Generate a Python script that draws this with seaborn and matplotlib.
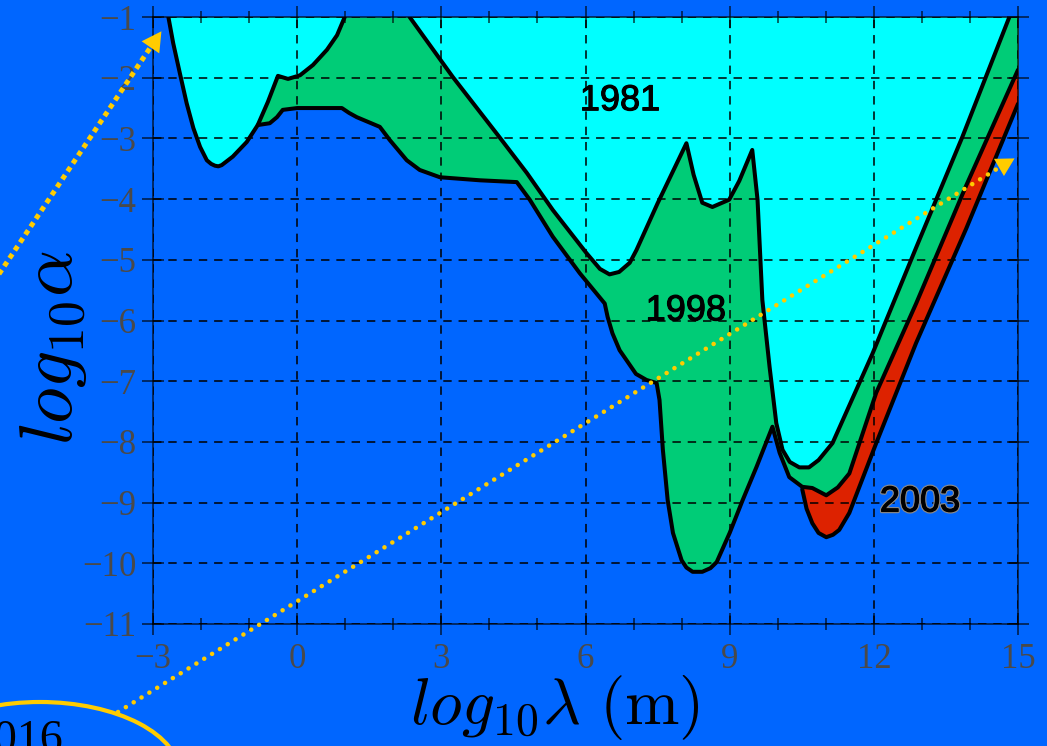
import matplotlib
matplotlib.use("Agg")
import matplotlib.pyplot as plt
import matplotlib.patheffects as pe
from matplotlib.patches import Ellipse, FancyArrowPatch
from matplotlib.lines import Line2D
import numpy as np
import pandas as pd
import seaborn as sns

# ---- exclusion limits: log10(alpha) versus log10(lambda / m) ----
# 1981 bound, short-range branch
x1981_left = [-2.68, -2.58, -2.44, -2.30, -2.16, -2.02, -1.88, -1.79, -1.71, -1.64, -1.57,
              -1.34, -1.05, -0.82, -0.61, -0.40, -0.19, 0.06, 0.33, 0.62, 0.83, 0.99]
y1981_left = [-1.0, -1.43, -1.93, -2.42, -2.83, -3.14, -3.36, -3.42, -3.45, -3.46, -3.44,
              -3.30, -3.06, -2.78, -2.40, -1.97, -2.02, -1.96, -1.79, -1.54, -1.30, -1.0]
# 1981 bound, long-range branch
x1981_right = [2.34, 3.24, 4.21, 4.78, 5.32, 6.02, 6.30, 6.50, 6.70, 6.92, 7.06, 7.50,
               8.10, 8.25, 8.43, 8.64, 8.99, 9.20, 9.47, 9.58, 9.68, 9.83, 9.97, 10.10,
               10.25, 10.45, 10.65, 10.85, 11.14, 11.97, 12.88, 13.84, 14.82]
y1981_right = [-1.0, -1.99, -2.98, -3.57, -4.18, -4.89, -5.15, -5.24, -5.20, -5.05, -4.84,
               -4.07, -3.08, -3.60, -4.06, -4.13, -4.01, -3.70, -3.19, -4.01, -5.66, -6.76,
               -7.69, -8.13, -8.33, -8.42, -8.42, -8.30, -8.02, -6.55, -4.80, -2.98, -1.0]
# 1998 bound
x1998 = [-0.82, -0.57, -0.42, -0.30, 0.00, 0.50, 0.93, 1.08, 1.24, 1.72, 1.93, 2.28, 2.55,
         2.97, 3.80, 4.57, 4.84, 5.32, 5.88, 6.40, 6.46, 6.56, 6.71, 6.85, 7.05, 7.27,
         7.48, 7.54, 7.61, 7.71, 7.82, 8.00, 8.10, 8.23, 8.43, 8.60, 8.73, 9.00, 9.27,
         9.56, 9.89, 10.04, 10.24, 10.51, 10.72, 11.01, 11.25, 11.49, 12.05, 12.88,
         13.92, 15.0]
y1998 = [-2.78, -2.75, -2.65, -2.53, -2.50, -2.50, -2.50, -2.58, -2.65, -2.81, -3.03, -3.36,
         -3.52, -3.64, -3.69, -3.72, -4.01, -4.62, -5.22, -5.72, -5.94, -6.21, -6.49, -6.65,
         -6.88, -6.98, -7.03, -7.31, -8.13, -8.96, -9.50, -9.95, -10.07, -10.14, -10.14,
         -10.08, -9.98, -9.50, -8.96, -8.41, -7.75, -8.18, -8.58, -8.74, -8.76, -8.88,
         -8.75, -8.52, -7.19, -5.72, -3.78, -1.87]
# 2003 bound
x2003 = [10.51, 10.60, 10.72, 10.85, 11.01, 11.15, 11.28, 11.49, 12.05, 12.88, 13.92, 15.0]
y2003 = [-8.78, -9.10, -9.34, -9.50, -9.57, -9.53, -9.45, -9.17, -8.02, -6.37, -4.49, -2.43]

year_labels = ["1981", "1998", "2003"]
year_label_x = [6.72, 8.09, 12.96]
year_label_y = [-2.38, -5.84, -8.99]

x_major = list(range(-3, 16, 3))
x_minor = list(range(-3, 16))
y_major = list(range(-11, 0))

BLUE = "#0066ff"
CYAN = "#00ffff"
GREEN = "#00cc77"
RED = "#dd2200"
GOLD = "#ffcc00"

sns.set_theme(style="ticks")
plt.rcParams["font.family"] = ["Liberation Sans", "DejaVu Sans"]
plt.rcParams["mathtext.fontset"] = "cm"
plt.rcParams["axes.unicode_minus"] = True

W, H = 1047, 746
fig = plt.figure(figsize=(W / 100, H / 100), dpi=100, facecolor=BLUE)
ax = fig.add_axes([153 / W, 122 / H, 865 / W, 607 / H])
ax.set_facecolor(BLUE)

# excluded regions, oldest bound drawn last so it sits on top
ax.fill_between(x2003, y2003, -1, color=RED, lw=0, zorder=1.0)
ax.fill_between(x1998, y1998, -1, color=GREEN, lw=0, zorder=1.1)
ax.fill_between(x1981_left, y1981_left, -1, color=CYAN, lw=0, zorder=1.2)
ax.fill_between(x1981_right, y1981_right, -1, color=CYAN, lw=0, zorder=1.2)

curves = [(x1981_left, y1981_left), (x1981_right, y1981_right),
          (x1998, y1998), (x2003, y2003)]
for cx, cy in curves:
    df = pd.DataFrame({"lam": cx, "alpha": cy})
    sns.lineplot(data=df, x="lam", y="alpha", sort=False, estimator=None,
                 color="black", lw=2.9, ax=ax, zorder=3)
for ln in ax.get_lines():
    ln.set_solid_joinstyle("round")
    ln.set_solid_capstyle("round")

ax.set_xlim(-3, 15)
ax.set_ylim(-11, -1)
ax.set_xticks(x_major)
ax.set_xticks(x_minor, minor=True)
ax.set_yticks(y_major)

ax.grid(True, which="major", color=(0, 0, 0, 0.6), ls=(0, (5.5, 4.5)), lw=1.1)
ax.set_axisbelow(False)
ax.tick_params(which="both", direction="inout", top=True, right=True,
               color=(0, 0, 0, 0.7), width=1.2, labelcolor="#4a4a4a",
               labelsize=25, labelfontfamily="Liberation Serif")
ax.tick_params(which="major", length=16)
ax.tick_params(which="minor", length=9)
ax.tick_params(axis="x", pad=6)
ax.tick_params(axis="y", pad=4)
for s in ax.spines.values():
    s.set_color((0, 0, 0, 0.7))
    s.set_linewidth(1.2)

ax.set_xlabel(r"$log_{10}\lambda\ (\mathrm{m})$", fontsize=47, color="black")
ax.xaxis.set_label_coords(0.465, -0.081)
ax.set_ylabel(r"$log_{10}\alpha$", fontsize=53, color="black")
ax.yaxis.set_label_coords(-0.074, 0.456)

for txt, tx, ty in zip(year_labels, year_label_x, year_label_y):
    t = ax.text(tx, ty, txt, fontsize=26, color="black", ha="center", va="center",
                zorder=4)
    if txt == "2003":
        t.set_path_effects([pe.withStroke(linewidth=2.5, foreground="#8a8a8a"),
                            pe.withStroke(linewidth=0.8, foreground="black")])
    else:
        t.set_path_effects([pe.withStroke(linewidth=0.8, foreground="black")])


def fig_xy(px, py):
    return (px / W, 1 - py / H)


# dotted pointer arrows
p0, p1 = fig_xy(-5, 280), fig_xy(152, 45)
fig.add_artist(Line2D([p0[0], p1[0]], [p0[1], p1[1]],
                      transform=fig.transFigure, color=GOLD, lw=3.6,
                      ls=(0, (1, 0.9)), dash_capstyle="butt", zorder=5))
fig.add_artist(FancyArrowPatch(fig_xy(150, 48), fig_xy(163, 29),
                               transform=fig.transFigure,
                               arrowstyle="-|>,head_length=1.0,head_width=0.55",
                               mutation_scale=14, color=GOLD, lw=0, zorder=5))

p0, p1 = fig_xy(118, 712), fig_xy(1000, 167)
fig.add_artist(Line2D([p0[0], p1[0]], [p0[1], p1[1]],
                      transform=fig.transFigure, color=GOLD, lw=3.3,
                      ls=(0, (0.01, 2.0)), dash_capstyle="round", zorder=5))
fig.add_artist(FancyArrowPatch(fig_xy(998, 168), fig_xy(1017, 157),
                               transform=fig.transFigure,
                               arrowstyle="-|>,head_length=1.0,head_width=0.55",
                               mutation_scale=13, color=GOLD, lw=0, zorder=5))

# circled value at the lower left
fig.add_artist(Ellipse(fig_xy(40, 775), 280 / W, 146 / H, transform=fig.transFigure,
                       fill=False, edgecolor=GOLD, lw=3.0, zorder=5))
fig.text(63 / W, 1 - 752 / H, "1016", fontsize=33,
         family=["Liberation Serif", "DejaVu Serif"],
         color="black", ha="right", va="baseline")

fig.savefig("out.png", dpi=100, facecolor=BLUE)
